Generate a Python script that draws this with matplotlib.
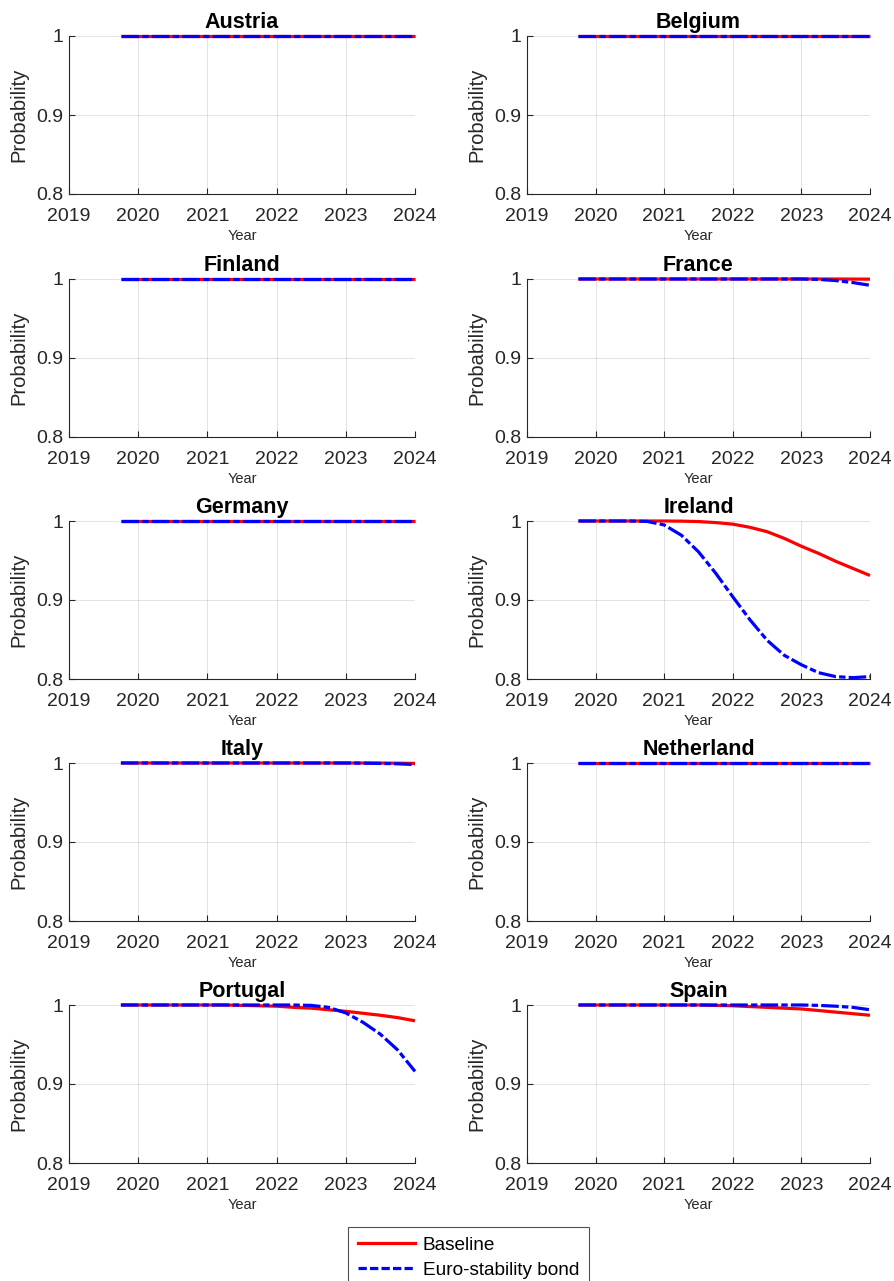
import matplotlib
matplotlib.use("Agg")
import matplotlib.pyplot as plt
from matplotlib.lines import Line2D

plt.rcParams['font.family'] = ['Liberation Sans', 'DejaVu Sans']

# quarterly horizon, 2019Q4 .. 2024Q1
years = [2019.75, 2020.00, 2020.25, 2020.50, 2020.75, 2021.00, 2021.25, 2021.50, 2021.75,
         2022.00, 2022.25, 2022.50, 2022.75, 2023.00, 2023.25, 2023.50, 2023.75, 2024.00]

# survival probabilities
flat_one = [1.0, 1.0, 1.0, 1.0, 1.0, 1.0, 1.0, 1.0, 1.0,
            1.0, 1.0, 1.0, 1.0, 1.0, 1.0, 1.0, 1.0, 1.0]

france_base = [1.0, 1.0, 1.0, 1.0, 1.0, 1.0, 1.0, 1.0, 1.0,
               1.0, 1.0, 1.0, 1.0, 1.0, 1.0, 1.0, 0.9999, 0.9998]
france_esb = [1.0, 1.0, 1.0, 1.0, 1.0, 1.0, 1.0, 1.0, 1.0,
              1.0, 1.0, 1.0, 1.0, 1.0, 0.9995, 0.998, 0.9955, 0.992]

ireland_base = [1.0, 1.0, 1.0, 1.0, 1.0, 1.0, 0.9998, 0.9993, 0.998,
                0.996, 0.992, 0.9865, 0.978, 0.968, 0.959, 0.949, 0.940, 0.931]
ireland_esb = [1.0, 1.0, 1.0, 1.0, 0.9995, 0.995, 0.982, 0.961, 0.934,
               0.904, 0.875, 0.849, 0.830, 0.818, 0.808, 0.803, 0.8017, 0.803]

italy_base = [1.0, 1.0, 1.0, 1.0, 1.0, 1.0, 1.0, 1.0, 1.0,
              1.0, 1.0, 1.0, 1.0, 1.0, 1.0, 0.9999, 0.9997, 0.9995]
italy_esb = [1.0, 1.0, 1.0, 1.0, 1.0, 1.0, 1.0, 1.0, 1.0,
             1.0, 1.0, 1.0, 1.0, 1.0, 0.9998, 0.9995, 0.999, 0.998]

portugal_base = [1.0, 1.0, 1.0, 1.0, 1.0, 1.0, 1.0, 0.9995, 0.999,
                 0.9985, 0.997, 0.996, 0.994, 0.992, 0.9895, 0.987, 0.984, 0.980]
portugal_esb = [1.0, 1.0, 1.0, 1.0, 1.0, 1.0, 1.0, 1.0, 1.0,
                1.0, 1.0, 0.9995, 0.997, 0.990, 0.978, 0.963, 0.943, 0.916]

spain_base = [1.0, 1.0, 1.0, 1.0, 1.0, 1.0, 1.0, 1.0, 0.9995,
              0.999, 0.998, 0.997, 0.996, 0.995, 0.993, 0.991, 0.989, 0.987]
spain_esb = [1.0, 1.0, 1.0, 1.0, 1.0, 1.0, 1.0, 1.0, 1.0,
             1.0, 1.0, 1.0, 1.0, 1.0, 0.9995, 0.9985, 0.997, 0.994]

countries = ['Austria', 'Belgium', 'Finland', 'France', 'Germany',
             'Ireland', 'Italy', 'Netherland', 'Portugal', 'Spain']
baseline = [flat_one, flat_one, flat_one, france_base, flat_one,
            ireland_base, italy_base, flat_one, portugal_base, spain_base]
esb = [flat_one, flat_one, flat_one, france_esb, flat_one,
       ireland_esb, italy_esb, flat_one, portugal_esb, spain_esb]

xticks = [2019, 2020, 2021, 2022, 2023, 2024]
yticks = [0.8, 0.9, 1.0]
ytick_labels = ['0.8', '0.9', '1']

W, H = 894, 1281
col_left = [69, 527]
col_width = [346, 343]
row_top = [36, 279, 521, 763, 1005]
ax_h = 158

dark = (0.15, 0.15, 0.15)
fig = plt.figure(figsize=(W / 100, H / 100), dpi=100)

for i, name in enumerate(countries):
    r, c = divmod(i, 2)
    ax = fig.add_axes([col_left[c] / W, 1 - (row_top[r] + ax_h) / H,
                       col_width[c] / W, ax_h / H])
    ax.plot(years, baseline[i], color='red', lw=2.3, solid_capstyle='butt',
            clip_on=False, zorder=3)
    ax.plot(years, esb[i], color='blue', lw=2.3, dashes=(5.5, 1.0, 2.0, 1.0),
            clip_on=False, zorder=4)
    ax.set_xlim(2019, 2024)
    ax.set_ylim(0.8, 1.0)
    ax.set_xticks(xticks)
    ax.set_xticklabels([str(x) for x in xticks])
    ax.set_yticks(yticks)
    ax.set_yticklabels(ytick_labels)
    ax.grid(True, color=dark, alpha=0.15, lw=0.6)
    ax.set_axisbelow(True)
    for s in ['top', 'right']:
        ax.spines[s].set_visible(False)
    for s in ['left', 'bottom']:
        ax.spines[s].set_color(dark)
        ax.spines[s].set_linewidth(0.8)
    ax.tick_params(direction='in', length=4, width=0.8, color=dark,
                   labelcolor=dark, labelsize=14)
    ax.tick_params(axis='x', pad=10)
    ax.tick_params(axis='y', pad=4)
    ax.set_title(name, fontsize=15.5, fontweight='bold', pad=6)
    ax.set_xlabel('Year', fontsize=10.5, color=dark, labelpad=3)
    ax.set_ylabel('Probability', fontsize=14.5, color=dark, labelpad=6)

handles = [Line2D([], [], color='red', lw=2.3),
           Line2D([], [], color='blue', lw=2.3, dashes=(2.6, 1.0))]
leg = fig.legend(handles, ['Baseline', 'Euro-stability bond'],
                 loc='upper center', bbox_to_anchor=(468.5 / W, 1 - 1227 / H),
                 frameon=True, fancybox=False, edgecolor=dark, fontsize=13.7,
                 handlelength=3.0, handletextpad=0.4, borderpad=0.5,
                 labelspacing=0.4, borderaxespad=0)
leg.get_frame().set_linewidth(0.8)

fig.savefig('out.png', dpi=100)
